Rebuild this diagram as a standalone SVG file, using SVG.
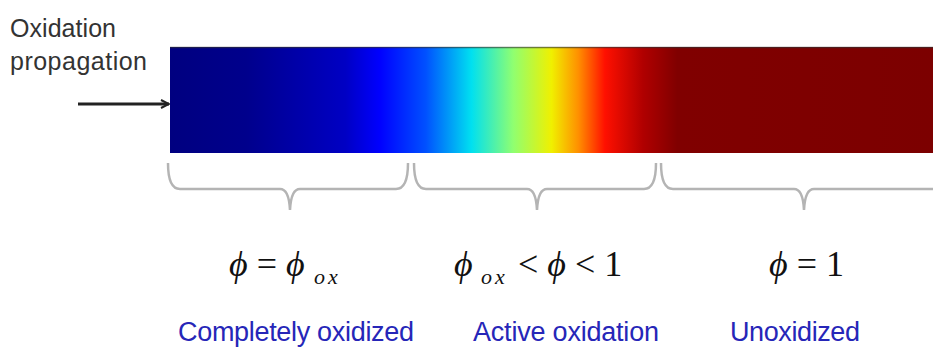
<svg xmlns="http://www.w3.org/2000/svg" width="933" height="349" viewBox="0 0 933 349">
<defs>
<linearGradient id="jet" gradientUnits="userSpaceOnUse" x1="170" y1="0" x2="933" y2="0">
<stop offset="0" stop-color="#000080"/>
<stop offset="0.1" stop-color="#00008c"/>
<stop offset="0.23" stop-color="#0000c4"/>
<stop offset="0.275" stop-color="#0000ff"/>
<stop offset="0.335" stop-color="#0050ff"/>
<stop offset="0.395" stop-color="#00e0f0"/>
<stop offset="0.45" stop-color="#90ff70"/>
<stop offset="0.50" stop-color="#f0f000"/>
<stop offset="0.535" stop-color="#ff9000"/>
<stop offset="0.57" stop-color="#ff1000"/>
<stop offset="0.62" stop-color="#b00000"/>
<stop offset="0.665" stop-color="#800000"/>
<stop offset="1" stop-color="#7c0000"/>
</linearGradient>
<marker id="arr" viewBox="0 0 10 10" refX="9" refY="5" markerWidth="10" markerHeight="10" markerUnits="userSpaceOnUse" orient="auto">
<path d="M1,1 L9,5 L1,9" fill="none" stroke="#222" stroke-width="2"/>
</marker>
</defs>
<style>
.lbl{font-family:"Liberation Sans",Arial,sans-serif;font-size:25px;fill:#333}
.reg{font-family:"Liberation Sans",Arial,sans-serif;font-size:27px;fill:#2626b8;text-anchor:middle}
.math{font-family:"Liberation Serif","Times New Roman",serif;font-size:36px;fill:#111}
.it{font-style:italic}
.sub{font-family:"Liberation Serif","Times New Roman",serif;font-size:22px;font-style:italic;fill:#111;letter-spacing:3px}
.brace{fill:none;stroke:#b4b4b4;stroke-width:2.5}
</style>
<g id="bar">
<rect x="170" y="47" width="763" height="106" fill="url(#jet)"/>
<line x1="170" y1="47.5" x2="933" y2="47.5" stroke="#303030" stroke-width="1.5" opacity="0.6"/>
</g>
<g id="propagation-label">
<text class="lbl" x="10" y="37" textLength="106">Oxidation</text>
<text class="lbl" x="10" y="70" textLength="137">propagation</text>
</g>
<g id="connectors">
<line x1="78" y1="104" x2="169" y2="104" stroke="#222" stroke-width="2.8" marker-end="url(#arr)"/>
</g>
<g id="braces">
<path class="brace" d="M168,163 Q168,189 180,189 L280,189 Q289,189 290,210 Q291,189 300,189 L396,189 Q408,189 408,163"/>
<path class="brace" d="M414,163 Q414,189 426,189 L527,189 Q536,189 537,210 Q538,189 547,189 L644,189 Q656,189 656,163"/>
<path class="brace" d="M661,163 Q661,189 673,189 L794,189 Q803,189 804,210 Q805,189 814,189 L933,189"/>
</g>
<g id="formula-1">
<text class="math" x="229" y="276"><tspan class="it">ϕ</tspan> = <tspan class="it">ϕ</tspan></text>
<text class="sub" x="314" y="284">ox</text>
</g>
<g id="formula-2">
<text class="math" x="454" y="276"><tspan class="it">ϕ</tspan></text>
<text class="sub" x="481" y="284">ox</text>
<text class="math" x="518" y="276">&lt; <tspan class="it">ϕ</tspan> &lt; 1</text>
</g>
<g id="formula-3">
<text class="math" x="769" y="276"><tspan class="it">ϕ</tspan> = 1</text>
</g>
<g id="region-labels">
<text class="reg" x="296" y="341" textLength="236">Completely oxidized</text>
<text class="reg" x="566" y="341" textLength="186">Active oxidation</text>
<text class="reg" x="795" y="341" textLength="130">Unoxidized</text>
</g>
</svg>
